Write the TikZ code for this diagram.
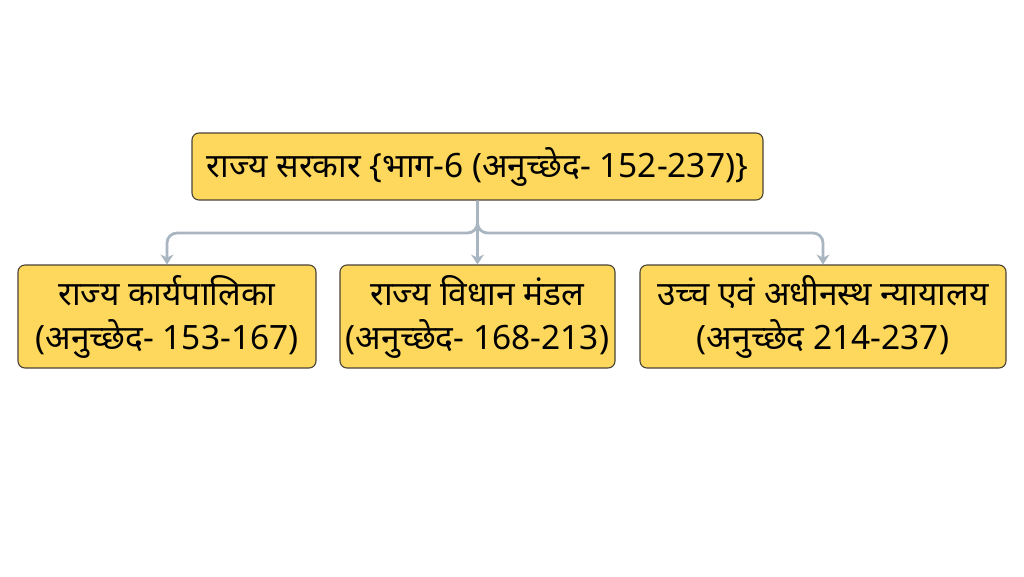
\documentclass[tikz,border=0pt]{standalone}
\usepackage{fontspec}
\setmainfont[Script=Devanagari]{Noto Sans}
\usetikzlibrary{arrows.meta}
\definecolor{boxfill}{HTML}{FDD85C}
\definecolor{boxline}{HTML}{4A4436}
\definecolor{linkgray}{HTML}{A9B6C2}

\begin{document}
\begin{tikzpicture}[x=1pt,y=-1pt,
		part/.style={draw=boxline,line width=1.1pt,fill=boxfill,rounded corners=7pt,align=center,inner sep=0pt,font=\fontsize{33.5}{44}\selectfont},
		link/.style={draw=linkgray,line width=2.8pt,rounded corners=10pt,-{Stealth[length=10pt,width=13pt]}}]
		\useasboundingbox (0,0) rectangle (1024,576);
		% top
		\node[part,minimum width=571pt,minimum height=67pt] (sarkar) at (477.5,166.5) {राज्य सरकार \{भाग-6 (अनुच्छेद- 152-237)\}};
		% three branches
		\node[part,minimum width=298pt,minimum height=103pt] (karya) at (167,316.5) {राज्य कार्यपालिका\\(अनुच्छेद- 153-167)};
		\node[part,minimum width=275pt,minimum height=103pt] (vidhan) at (477.5,316.5) {राज्य विधान मंडल\\(अनुच्छेद- 168-213)};
		\node[part,minimum width=366pt,minimum height=103pt] (nyaya) at (823,316.5) {उच्च एवं अधीनस्थ न्यायालय\\(अनुच्छेद 214-237)};
		\coordinate (split) at (477.5,233);
		\draw[link] (sarkar.south) -- (split) -| (karya.north);
		\draw[link] (sarkar.south) -- (split) -| (nyaya.north);
		\draw[link] (sarkar.south) -- (vidhan.north);
\end{tikzpicture}
\end{document}
